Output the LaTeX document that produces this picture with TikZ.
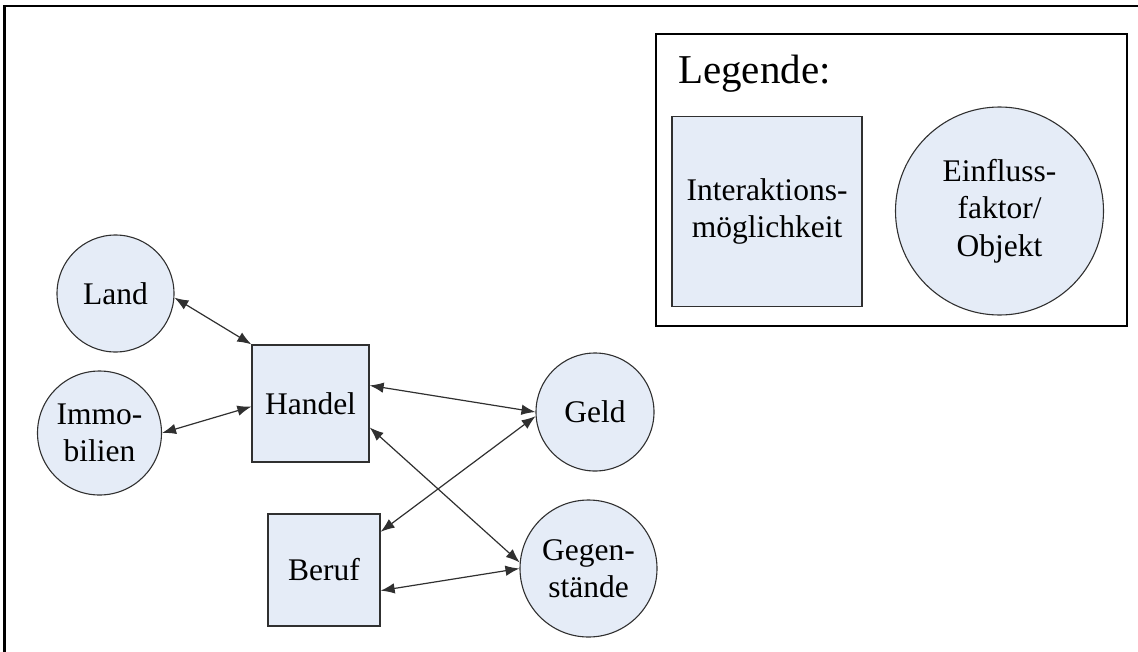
\documentclass[tikz,border=0pt]{standalone}
\usepackage{fontspec}
\setmainfont{Liberation Serif}
\usetikzlibrary{arrows.meta}

\definecolor{nodefill}{RGB}{229,236,247}
\definecolor{edgegrey}{RGB}{48,48,48}

\newcommand\labelfont{\fontsize{31.5}{37.5}\selectfont}

\tikzset{
  actionbox/.style={draw=edgegrey, line width=1.3pt, fill=nodefill,
    minimum width=#1, minimum height=#1, inner sep=0pt, align=center, font=\labelfont},
  factor/.style={circle, draw=edgegrey, line width=1.1pt, fill=nodefill,
    minimum size=#1, inner sep=0pt, align=center, font=\labelfont},
  link/.style={draw=edgegrey, line width=1.2pt,
    {Latex[length=14pt,width=10.5pt]}-{Latex[length=14pt,width=10.5pt]}},
  frame/.style={draw=black, line width=2.6pt}
}

\begin{document}
\begin{tikzpicture}[x=1pt, y=-1pt]
  \useasboundingbox (0,0) rectangle (1138,651);

  % outer frame (top and left edges)
  \draw[frame] (1145,6) -- (4.5,6) -- (4.5,660);

  % legend
  \node[draw=black, line width=2.6pt, minimum width=471pt, minimum height=292pt,
        inner sep=0pt] (legend) at (891.5,180) {};
  \node[anchor=base west, font=\fontsize{41}{48}\selectfont, inner sep=0pt]
        (legendtitle) at (678,83) {Legende:};
  \node[actionbox=190pt] (legbox) at (767,211.5) {Interaktions-\\möglichkeit};
  \node[factor=208pt] (legcircle) at (999.5,211) {Einfluss-\\faktor/\\Objekt};

  % factors
  \node[factor=117pt] (land) at (115.5,293.5) {Land};
  \node[factor=124pt] (immo) at (99.5,433) {Immo-\\bilien};
  \node[factor=118pt] (geld) at (595,412) {Geld};
  \node[factor=137pt] (gegen) at (588.5,568.5) {Gegen-\\stände};

  % interaction options
  \node[actionbox=117pt] (handel) at (310.5,403.5) {Handel};
  \node[actionbox=112pt] (beruf) at (324,570) {Beruf};

  % connections
  \draw[link] (land.-4) -- (handel.north west);
  \draw[link] (immo.east) -- (handel.183);
  \draw[link] (handel.17) -- (geld.west);
  \draw[link] (handel.-22) -- (gegen.175);
  \draw[link] (geld.184) -- (beruf.34);
  \draw[link] (beruf.-20) -- (gegen.west);
\end{tikzpicture}
\end{document}
